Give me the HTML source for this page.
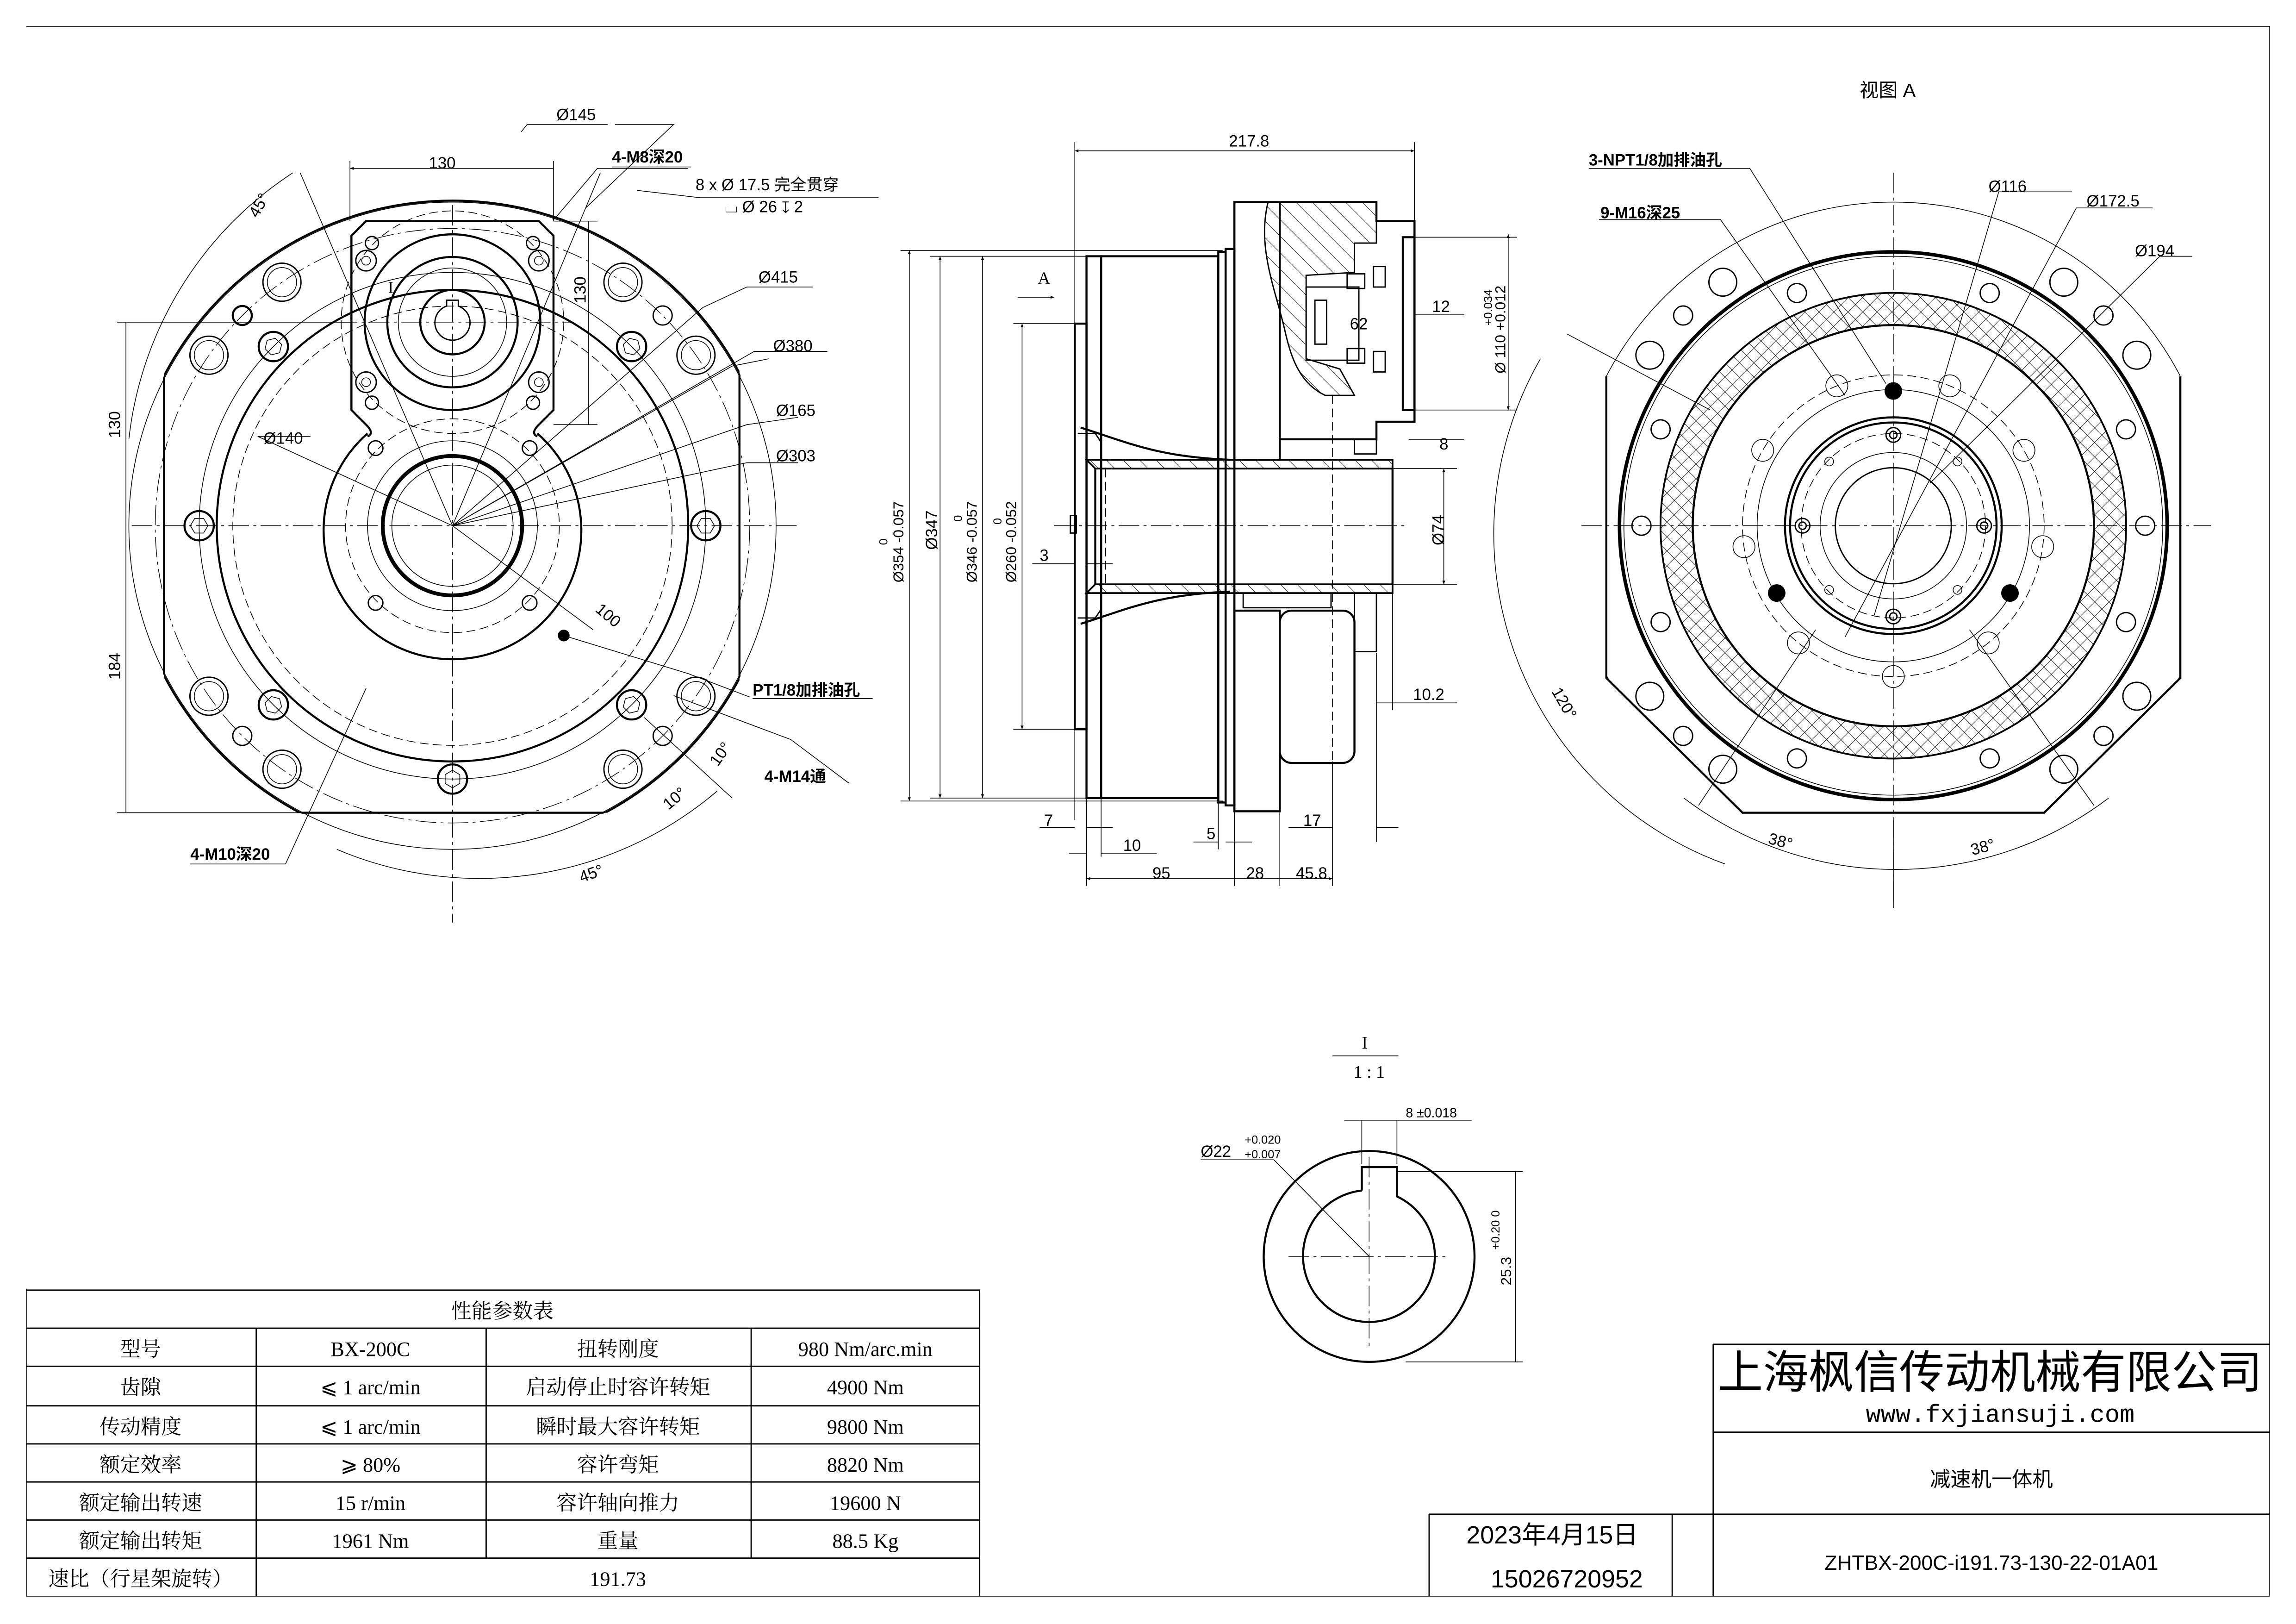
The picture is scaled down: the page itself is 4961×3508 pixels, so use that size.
<!DOCTYPE html>
<html><head><meta charset="utf-8">
<style>
html,body{margin:0;padding:0;background:#fff;}
svg{display:block;}
text{font-family:"Liberation Sans","Noto Sans CJK SC",sans-serif;fill:#000;}
.k{fill:none;stroke:#000;stroke-width:1.4}
.m{fill:none;stroke:#000;stroke-width:0.9}
.t{fill:none;stroke:#000;stroke-width:0.5}
.d{fill:none;stroke:#000;stroke-width:0.5;stroke-dasharray:6 3}
.c{fill:none;stroke:#000;stroke-width:0.45;stroke-dasharray:14 3 2 3}
text.serif,.serif text{font-family:"Liberation Serif","Noto Serif CJK SC",serif;}
text.mono{font-family:"Liberation Mono","Noto Sans CJK SC",monospace;}
</style></head><body>
<svg width="4961" height="3508" viewBox="0 0 1568 1109" preserveAspectRatio="none" xmlns="http://www.w3.org/2000/svg">
<defs>
<pattern id="hx" width="7" height="7" patternUnits="userSpaceOnUse" patternTransform="rotate(45)">
<path d="M0,0 L0,7 M0,0 L7,0" stroke="#000" stroke-width="0.6"/>
</pattern>
<pattern id="hd" width="8" height="8" patternUnits="userSpaceOnUse" patternTransform="rotate(-45)">
<path d="M0,0 L0,8" stroke="#000" stroke-width="0.6"/>
</pattern>
<clipPath id="lrect"><rect x="112" y="0" width="393" height="555"/></clipPath>
<clipPath id="lcirc"><circle cx="309" cy="359" r="222"/></clipPath>
<clipPath id="roct"><polygon points="1097,0 1097,463 1190,555 1396,555 1489,463 1489,0"/></clipPath>
<marker id="ar" viewBox="0 0 10 10" refX="10" refY="5" markerWidth="7" markerHeight="5" orient="auto-start-reverse"><path d="M0,1 L10,5 L0,9 z" fill="#000"/></marker>
</defs>

<path class="t" d="M18,18 L1550,18 L1550,1090 M18,880 L18,1090 L1550,1090"/>

<!-- ============ LEFT VIEW ============ -->
<g>
<circle class="t" cx="309" cy="359" r="221"/>
<circle class="k" cx="309" cy="359" r="222" clip-path="url(#lrect)"/>
<rect class="k" x="112" y="0" width="393" height="555" clip-path="url(#lcirc)"/>
<circle class="t" cx="309" cy="359" r="173"/>
<circle class="k" cx="309" cy="359" r="161"/>
<circle class="d" cx="309" cy="359" r="150"/>
<circle class="c" cx="309" cy="359" r="203"/>
<path class="c" d="M90,359 L545,359 M309,140 L309,630"/>
<g transform="translate(309,359)">
<g transform="rotate(-35)"><circle class="m" cx="203" cy="0" r="13"/><circle class="t" cx="203" cy="0" r="10"/></g>
<g transform="rotate(-55)"><circle class="m" cx="203" cy="0" r="13"/><circle class="t" cx="203" cy="0" r="10"/></g>
<g transform="rotate(-125)"><circle class="m" cx="203" cy="0" r="13"/><circle class="t" cx="203" cy="0" r="10"/></g>
<g transform="rotate(-145)"><circle class="m" cx="203" cy="0" r="13"/><circle class="t" cx="203" cy="0" r="10"/></g>
<g transform="rotate(35)"><circle class="m" cx="203" cy="0" r="13"/><circle class="t" cx="203" cy="0" r="10"/></g>
<g transform="rotate(55)"><circle class="m" cx="203" cy="0" r="13"/><circle class="t" cx="203" cy="0" r="10"/></g>
<g transform="rotate(125)"><circle class="m" cx="203" cy="0" r="13"/><circle class="t" cx="203" cy="0" r="10"/></g>
<g transform="rotate(145)"><circle class="m" cx="203" cy="0" r="13"/><circle class="t" cx="203" cy="0" r="10"/></g>
<g transform="rotate(45)"><circle class="m" cx="203" cy="0" r="6.5"/></g>
<g transform="rotate(135)"><circle class="m" cx="203" cy="0" r="6.5"/></g>
<g transform="rotate(-45)"><circle class="m" cx="203" cy="0" r="6.5"/></g>
<g transform="rotate(-135)"><circle class="k" cx="203" cy="0" r="6.5"/></g>
<g transform="rotate(0)"><circle class="k" cx="173" cy="0" r="10"/><polygon class="t" points="179,0 176,5 170,5 167,0 170,-5 176,-5"/></g>
<g transform="rotate(45)"><circle class="k" cx="173" cy="0" r="10"/><polygon class="t" points="179,0 176,5 170,5 167,0 170,-5 176,-5"/></g>
<g transform="rotate(90)"><circle class="k" cx="173" cy="0" r="10"/><polygon class="t" points="179,0 176,5 170,5 167,0 170,-5 176,-5"/></g>
<g transform="rotate(135)"><circle class="k" cx="173" cy="0" r="10"/><polygon class="t" points="179,0 176,5 170,5 167,0 170,-5 176,-5"/></g>
<g transform="rotate(180)"><circle class="k" cx="173" cy="0" r="10"/><polygon class="t" points="179,0 176,5 170,5 167,0 170,-5 176,-5"/></g>
<g transform="rotate(-45)"><circle class="k" cx="173" cy="0" r="10"/><polygon class="t" points="179,0 176,5 170,5 167,0 170,-5 176,-5"/></g>
<g transform="rotate(-135)"><circle class="k" cx="173" cy="0" r="10"/><polygon class="t" points="179,0 176,5 170,5 167,0 170,-5 176,-5"/></g>
</g>
<path class="k" d="M251,296 A88,88 0 1 0 367,296"/>
<circle class="d" cx="309" cy="359" r="73"/>
<circle class="t" cx="309" cy="359" r="58"/>
<circle cx="309" cy="359" r="47.6" fill="none" stroke="#000" stroke-width="2.6"/>
<circle class="t" cx="309" cy="359" r="41.4"/>
<path class="k" d="M250,290 L240,280 L240,161 L250,151 L368,151 L378,161 L378,280 L368,290 M250,290 Q256,296 251,298 M368,290 Q362,296 367,298"/>
<circle class="d" cx="309" cy="220" r="76"/>
<circle class="k" cx="309" cy="220" r="60"/>
<circle class="k" cx="309" cy="220" r="44.5"/>
<circle class="t" cx="309" cy="220" r="37"/>
<circle class="k" cx="309" cy="220" r="22"/>
<path class="m" d="M305,209 L305,205 L313,205 L313,209 A12,12 0 1 1 305,209 Z"/>
<path class="c" d="M230,220 L390,220"/>
<g class="m">
<circle cx="254" cy="166" r="4.5"/><circle cx="364" cy="166" r="4.5"/><circle cx="254" cy="275" r="4.5"/><circle cx="364" cy="275" r="4.5"/>
<circle cx="250" cy="178" r="7"/><circle cx="368" cy="178" r="7"/><circle cx="250" cy="261" r="7"/><circle cx="368" cy="261" r="7"/>
<circle cx="256.5" cy="306" r="5"/><circle cx="361.7" cy="306" r="5"/><circle cx="256.5" cy="411.7" r="5"/><circle cx="361.7" cy="411.7" r="5"/>
</g>
<circle cx="250" cy="178" r="3" class="t"/><circle cx="368" cy="178" r="3" class="t"/><circle cx="250" cy="261" r="3" class="t"/><circle cx="368" cy="261" r="3" class="t"/>
<circle cx="385" cy="434" r="4" fill="#000"/>
<g class="t">
<path d="M239,115 L378,115 M239,110 L239,151 M378,110 L378,151" marker-start="url(#ar)" marker-end="url(#ar)"/>
<path d="M402,151 L402,290 M378,151 L408,151 M378,290 L408,290" />
<path d="M86,220 L86,359 M86,359 L86,555 M80,220 L240,220 M80,555 L240,555"/>
<path d="M309,359 L205,118 M309,359 L410,118"/>
<path d="M200,118 A250,250 0 0 0 88,300"/>
<path d="M230,580 A250,250 0 0 0 490,540"/>
<path d="M309,359 L405,430 M385,434 L470,460 L512,476 M309,359 L176,298 L212,298"/>
<path d="M309,359 L500,250 L525,245 M309,359 L510,290 L545,285 M309,359 L510,316 L545,316 M309,359 L480,210 L510,196 L555,196 M309,359 L515,240 L565,240"/>
<path d="M380,148 L408,115 L470,115 M400,142 L460,85 L420,85 M356,90 L360,85 L415,85"/>
<path d="M435,130 L478,135 L600,135 M460,475 L540,505 L580,535 M440,490 L500,545"/>
<path d="M130,590 L195,590 L250,470"/>
</g>
<text x="302" y="115" font-size="11" text-anchor="middle">130</text>
<text transform="translate(400,198) rotate(-90)" font-size="11" text-anchor="middle">130</text>
<text transform="translate(82,290) rotate(-90)" font-size="11" text-anchor="middle">130</text>
<text transform="translate(82,455) rotate(-90)" font-size="11" text-anchor="middle">184</text>
<text x="265" y="200" font-size="11" class="serif">I</text>
<text transform="translate(180,142) rotate(-60)" font-size="11" text-anchor="middle">45°</text>
<text transform="translate(405,600) rotate(-20)" font-size="11" text-anchor="middle">45°</text>
<text transform="translate(413,423) rotate(40)" font-size="11" text-anchor="middle">100</text>
<text transform="translate(495,517) rotate(-55)" font-size="11" text-anchor="middle">10°</text>
<text transform="translate(463,548) rotate(-40)" font-size="11" text-anchor="middle">10°</text>
<text x="380" y="82" font-size="11">Ø145</text>
<text x="418" y="111" font-size="11" font-weight="bold">4-M8深20</text>
<path class="t" d="M418,114 L472,114"/>
<text x="475" y="130" font-size="11">8 x Ø 17.5 完全贯穿</text>
<text x="495" y="145" font-size="11">⌴ Ø 26 ↧ 2</text>
<text x="518" y="193" font-size="11">Ø415</text>
<text x="528" y="240" font-size="11">Ø380</text>
<text x="530" y="284" font-size="11">Ø165</text>
<text x="530" y="315" font-size="11">Ø303</text>
<text x="180" y="303" font-size="11">Ø140</text>
<text x="514" y="475" font-size="11" font-weight="bold">PT1/8加排油孔</text>
<path class="t" d="M514,477 L596,477"/>
<text x="522" y="534" font-size="11" font-weight="bold">4-M14通</text>
<text x="130" y="587" font-size="11" font-weight="bold">4-M10深20</text>
</g>

<!-- ============ MIDDLE VIEW ============ -->
<g>
<rect class="k" x="734" y="221" width="8" height="277"/>
<rect class="k" x="742" y="175" width="10" height="370"/>
<rect class="k" x="752" y="175" width="80" height="370"/>
<rect class="k" x="832" y="172" width="5" height="376"/>
<rect class="k" x="837" y="170" width="6" height="380"/>
<rect class="k" x="843" y="138" width="31" height="176"/>
<rect class="k" x="843" y="417" width="31" height="137"/>
<path class="k" d="M874,138 L940,138 L940,151 L966,151 L966,288 L940,288 L940,300 L874,300"/>
<rect class="k" x="958" y="162" width="8" height="118"/>
<path fill="url(#hd)" stroke="#000" stroke-width="0.9" d="M866,138 L940,138 L940,166 L925,166 L925,186 L892,188 L892,245 L915,252 L925,270 L905,270 C888,262 882,245 878,228 C872,200 858,170 866,138 Z"/>
<rect class="m" x="892" y="196" width="36" height="50"/>
<rect class="m" x="898" y="205" width="8" height="30"/>
<rect class="m" x="920" y="187" width="12" height="10"/><rect class="m" x="920" y="238" width="12" height="10"/>
<rect class="m" x="938" y="182" width="8" height="14"/><rect class="m" x="938" y="240" width="8" height="14"/>
<path class="d" d="M910,270 L910,420 L910,520"/>
<rect class="k" x="874" y="417" width="51" height="104" rx="8"/>
<rect class="m" x="925" y="405" width="15" height="40"/>
<rect class="m" x="925" y="300" width="15" height="10"/>
<path fill="url(#hd)" stroke="#000" stroke-width="1.2" d="M742,314 L951,314 L951,320 L748,320 Z"/>
<path fill="url(#hd)" stroke="#000" stroke-width="1.2" d="M748,399 L951,399 L951,405 L742,405 Z"/>
<path class="k" d="M748,320 L748,399 M951,320 L951,399"/>
<path class="k" d="M738,292 C770,302 790,312 840,314 M738,426 C770,416 790,406 840,404"/>
<path class="m" d="M736,296 L748,296 L752,302 M736,422 L748,422 L752,416"/>
<rect class="m" x="849" y="405" width="60" height="10"/>
<path class="d" d="M755,320 L755,399"/>
<path class="c" d="M720,359 L960,359"/>
<rect class="m" x="731" y="352" width="4" height="12"/>
<g class="t">
<path d="M734,103 L966,103" marker-start="url(#ar)" marker-end="url(#ar)"/>
<path d="M734,97 L734,560 M966,97 L966,151"/>
<path d="M621,171 L621,547" marker-start="url(#ar)" marker-end="url(#ar)"/>
<path d="M642,175 L642,545" marker-start="url(#ar)" marker-end="url(#ar)"/>
<path d="M671,175 L671,545" marker-start="url(#ar)" marker-end="url(#ar)"/>
<path d="M698,221 L698,498" marker-start="url(#ar)" marker-end="url(#ar)"/>
<path d="M615,171 L835,171 M615,547 L835,547 M635,175 L752,175 M635,545 L752,545 M692,221 L734,221 M692,498 L734,498"/>
<path d="M986,320 L986,399" marker-start="url(#ar)" marker-end="url(#ar)"/>
<path d="M951,320 L995,320 M951,399 L995,399"/>
<path d="M1030,160 L1030,280" marker-start="url(#ar)" marker-end="url(#ar)"/>
<path d="M966,162 L1036,162 M966,280 L1036,280"/>
<path d="M742,175 L742,605 M752,545 L752,585 M832,548 L832,580 M843,550 L843,605 M874,554 L874,605 M910,520 L910,605 M940,446 L940,575 M951,405 L951,485"/>
<path d="M742,600 L843,600 L874,600 L910,600" marker-start="url(#ar)" marker-end="url(#ar)"/>
<path d="M710,565 L734,565 M742,565 L760,565 M730,583 L742,583 M752,583 L790,583 M815,575 L832,575 M837,575 L855,575 M880,565 L910,565 M940,565 L955,565"/>
<path d="M705,385 L734,385 M742,385 L760,385 M962,300 L975,300 M966,300 L1000,300 M940,480 L951,480 M951,480 L995,480 M966,215 L1000,215"/>
<path d="M695,203 L720,203" marker-end="url(#ar)"/>
</g>
<text x="853" y="100" font-size="11" text-anchor="middle">217.8</text>
<text transform="translate(617,370) rotate(-90)" font-size="10" text-anchor="middle">Ø354 -0.057</text>
<text transform="translate(606,370) rotate(-90)" font-size="8" text-anchor="middle">0</text>
<text transform="translate(640,362) rotate(-90)" font-size="11" text-anchor="middle">Ø347</text>
<text transform="translate(667,370) rotate(-90)" font-size="10" text-anchor="middle">Ø346 -0.057</text>
<text transform="translate(657,354) rotate(-90)" font-size="8" text-anchor="middle">0</text>
<text transform="translate(694,370) rotate(-90)" font-size="10" text-anchor="middle">Ø260 -0.052</text>
<text transform="translate(684,356) rotate(-90)" font-size="8" text-anchor="middle">0</text>
<text transform="translate(986,362) rotate(-90)" font-size="11" text-anchor="middle">Ø74</text>
<text transform="translate(1028,225) rotate(-90)" font-size="10" text-anchor="middle">Ø 110 +0.012</text>
<text transform="translate(1019,210) rotate(-90)" font-size="8" text-anchor="middle">+0.034</text>
<text x="713" y="194" font-size="12" class="serif" text-anchor="middle">A</text>
<text x="978" y="213" font-size="11">12</text>
<text x="928" y="225" font-size="11" text-anchor="middle">62</text>
<text x="983" y="307" font-size="11">8</text>
<text x="965" y="478" font-size="11">10.2</text>
<text x="710" y="383" font-size="11">3</text>
<text x="713" y="564" font-size="11">7</text>
<text x="767" y="581" font-size="11">10</text>
<text x="824" y="573" font-size="11">5</text>
<text x="890" y="564" font-size="11">17</text>
<text x="787" y="600" font-size="11">95</text>
<text x="851" y="600" font-size="11">28</text>
<text x="885" y="600" font-size="11">45.8</text>
</g>

<!-- ============ RIGHT VIEW ============ -->
<g>
<text x="1270" y="66" font-size="13">视图 A</text>
<circle class="t" cx="1293" cy="359" r="221" clip-path="url(#roct)"/>
<path class="k" d="M1097,257 L1097,463 L1190,555 L1396,555 L1489,463 L1489,257"/>
<circle cx="1293" cy="359" r="187" fill="none" stroke="#000" stroke-width="2.4"/>
<circle class="t" cx="1293" cy="359" r="184"/>
<path fill="url(#hx)" fill-rule="evenodd" stroke="#000" stroke-width="1.2" d="M1134,359 a159,159 0 1 0 318,0 a159,159 0 1 0 -318,0 Z M1156,359 a137,137 0 1 0 274,0 a137,137 0 1 0 -274,0 Z"/>
<circle class="k" cx="1293" cy="359" r="137"/>
<circle class="d" cx="1293" cy="359" r="103"/>
<circle class="t" cx="1293" cy="359" r="93"/>
<circle class="k" cx="1293" cy="359" r="74"/>
<circle class="k" cx="1293" cy="359" r="70.5"/>
<circle class="d" cx="1293" cy="359" r="63"/>
<circle class="t" cx="1293" cy="359" r="50"/>
<circle class="m" cx="1293" cy="359" r="39.6"/>
<path class="c" d="M1080,359 L1510,359 M1293,118 L1293,620"/>
<g transform="translate(1293,359)">
<g class="m">
<circle transform="rotate(-35)" cx="203" cy="0" r="9.5"/><circle transform="rotate(-55)" cx="203" cy="0" r="9.5"/>
<circle transform="rotate(-125)" cx="203" cy="0" r="9.5"/><circle transform="rotate(-145)" cx="203" cy="0" r="9.5"/>
<circle transform="rotate(35)" cx="203" cy="0" r="9.5"/><circle transform="rotate(55)" cx="203" cy="0" r="9.5"/>
<circle transform="rotate(125)" cx="203" cy="0" r="9.5"/><circle transform="rotate(145)" cx="203" cy="0" r="9.5"/>
<circle transform="rotate(45)" cx="203" cy="0" r="6.5"/><circle transform="rotate(-45)" cx="203" cy="0" r="6.5"/>
<circle transform="rotate(135)" cx="203" cy="0" r="6.5"/><circle transform="rotate(-135)" cx="203" cy="0" r="6.5"/>
<circle transform="rotate(0)" cx="172" cy="0" r="6.5"/><circle transform="rotate(180)" cx="172" cy="0" r="6.5"/>
<circle transform="rotate(22.5)" cx="172" cy="0" r="6.5"/><circle transform="rotate(-22.5)" cx="172" cy="0" r="6.5"/>
<circle transform="rotate(67.5)" cx="172" cy="0" r="6.5"/><circle transform="rotate(-67.5)" cx="172" cy="0" r="6.5"/>
<circle transform="rotate(112.5)" cx="172" cy="0" r="6.5"/><circle transform="rotate(-112.5)" cx="172" cy="0" r="6.5"/>
<circle transform="rotate(157.5)" cx="172" cy="0" r="6.5"/><circle transform="rotate(-157.5)" cx="172" cy="0" r="6.5"/>
</g>
<g class="t">
<circle transform="rotate(-112)" cx="103" cy="0" r="7.5"/><circle transform="rotate(-68)" cx="103" cy="0" r="7.5"/>
<circle transform="rotate(-150)" cx="103" cy="0" r="7.5"/><circle transform="rotate(-30)" cx="103" cy="0" r="7.5"/>
<circle transform="rotate(172)" cx="103" cy="0" r="7.5"/><circle transform="rotate(8)" cx="103" cy="0" r="7.5"/>
<circle transform="rotate(129)" cx="103" cy="0" r="7.5"/><circle transform="rotate(51)" cx="103" cy="0" r="7.5"/>
<circle transform="rotate(90)" cx="103" cy="0" r="7.5"/>
<circle transform="rotate(45)" cx="62" cy="0" r="3"/><circle transform="rotate(135)" cx="62" cy="0" r="3"/>
<circle transform="rotate(-45)" cx="62" cy="0" r="3"/><circle transform="rotate(-135)" cx="62" cy="0" r="3"/>
</g>
<g class="m">
<circle transform="rotate(90)" cx="62" cy="0" r="5"/><circle transform="rotate(-90)" cx="62" cy="0" r="5"/>
<circle transform="rotate(0)" cx="62" cy="0" r="5"/><circle transform="rotate(180)" cx="62" cy="0" r="5"/>
<circle transform="rotate(90)" cx="62" cy="0" r="2.5"/><circle transform="rotate(-90)" cx="62" cy="0" r="2.5"/>
<circle transform="rotate(0)" cx="62" cy="0" r="2.5"/><circle transform="rotate(180)" cx="62" cy="0" r="2.5"/>
</g>
<circle transform="rotate(-90)" cx="92" cy="0" r="6" fill="#000"/>
<circle transform="rotate(150)" cx="92" cy="0" r="6" fill="#000"/>
<circle transform="rotate(30)" cx="92" cy="0" r="6" fill="#000"/>
</g>
<g class="t">
<path d="M1085,115 L1195,115 L1288,262"/>
<path d="M1092,150 L1175,150 L1260,270"/>
<path d="M1415,131 L1365,131 L1280,420"/>
<path d="M1470,142 L1418,142 L1260,435"/>
<path d="M1497,175 L1475,175 L1318,330"/>
<path d="M1070,228 L1168,280 M1052,245 A240,240 0 0 0 1178,590"/>
<path d="M1150,545 A240,240 0 0 0 1440,545 M1160,550 L1240,430 M1430,550 L1345,430 M1293,560 L1293,620"/>
</g>
<text x="1085" y="113" font-size="11" font-weight="bold">3-NPT1/8加排油孔</text>
<text x="1093" y="149" font-size="11" font-weight="bold">9-M16深25</text>
<text x="1358" y="131" font-size="11">Ø116</text>
<text x="1425" y="141" font-size="11">Ø172.5</text>
<text x="1458" y="175" font-size="11">Ø194</text>
<text transform="translate(1065,482) rotate(60)" font-size="11" text-anchor="middle">120°</text>
<text transform="translate(1215,578) rotate(15)" font-size="11" text-anchor="middle">38°</text>
<text transform="translate(1355,582) rotate(-15)" font-size="11" text-anchor="middle">38°</text>
</g>

<!-- ============ DETAIL I ============ -->
<g>
<text x="932" y="716" font-size="12" class="serif" text-anchor="middle">I</text>
<path class="t" d="M910,721 L955,721"/>
<text x="935" y="736" font-size="12" class="serif" text-anchor="middle">1 : 1</text>
<circle class="k" cx="935" cy="858" r="72"/>
<path class="k" d="M930,813 L930,797 L954,797 L954,817 A45,45 0 1 1 930,813"/>
<path class="c" d="M880,858 L990,858 M935,790 L935,920"/>
<g class="t">
<path d="M930,765 L930,795 M954,765 L954,795 M918,765 L1005,765"/>
<path d="M820,792 L870,792 L935,858"/>
<path d="M954,800 L1040,800 M960,930 L1040,930 M1035,800 L1035,930"/>
</g>
<text x="960" y="763" font-size="9">8 ±0.018</text>
<text x="820" y="790" font-size="11">Ø22</text>
<text x="850" y="781" font-size="8">+0.020</text>
<text x="850" y="791" font-size="8">+0.007</text>
<text transform="translate(1032,868) rotate(-90)" font-size="10" text-anchor="middle">25.3</text>
<text transform="translate(1024,840) rotate(-90)" font-size="8" text-anchor="middle">+0.20  0</text>
</g>

<!-- ============ TABLE ============ -->
<g>
<path class="m" d="M18,881 L669,881 L669,1090 M18,907 L669,907 M18,933 L669,933 M18,960 L669,960 M18,986 L669,986 M18,1012 L669,1012 M18,1038 L669,1038 M18,1064 L669,1064 M175,907 L175,1090 M332,907 L332,1064 M513,907 L513,1064"/>
<g font-size="14" text-anchor="middle" class="serif">
<text x="343" y="900">性能参数表</text>
<text x="96" y="926">型号</text><text x="253" y="926">BX-200C</text><text x="422" y="926">扭转刚度</text><text x="591" y="926">980 Nm/arc.min</text>
<text x="96" y="952">齿隙</text><text x="253" y="952">⩽ 1 arc/min</text><text x="422" y="952">启动停止时容许转矩</text><text x="591" y="952">4900 Nm</text>
<text x="96" y="979">传动精度</text><text x="253" y="979">⩽ 1 arc/min</text><text x="422" y="979">瞬时最大容许转矩</text><text x="591" y="979">9800 Nm</text>
<text x="96" y="1005">额定效率</text><text x="253" y="1005">⩾ 80%</text><text x="422" y="1005">容许弯矩</text><text x="591" y="1005">8820 Nm</text>
<text x="96" y="1031">额定输出转速</text><text x="253" y="1031">15 r/min</text><text x="422" y="1031">容许轴向推力</text><text x="591" y="1031">19600 N</text>
<text x="96" y="1057">额定输出转矩</text><text x="253" y="1057">1961 Nm</text><text x="422" y="1057">重量</text><text x="591" y="1057">88.5 Kg</text>
<text x="96" y="1083">速比（行星架旋转）</text><text x="422" y="1083">191.73</text>
</g>
</g>

<!-- ============ TITLE BLOCK ============ -->
<g>
<path class="m" d="M1170,918 L1550,918 M1170,918 L1170,1090 M1170,978 L1550,978 M976,1034 L1550,1034 M976,1034 L976,1090 M1142,1034 L1142,1090"/>
<text x="1359" y="948" font-size="31" text-anchor="middle" font-family="'Noto Sans CJK SC',sans-serif">上海枫信传动机械有限公司</text>
<text x="1366" y="971" font-size="17" text-anchor="middle" class="mono">www.fxjiansuji.com</text>
<text x="1360" y="1015" font-size="14" text-anchor="middle">减速机一体机</text>
<text x="1060" y="1054" font-size="17" text-anchor="middle">2023年4月15日</text>
<text x="1070" y="1084" font-size="17" text-anchor="middle">15026720952</text>
<text x="1360" y="1072" font-size="14" text-anchor="middle">ZHTBX-200C-i191.73-130-22-01A01</text>
</g>
</svg>
</body></html>
